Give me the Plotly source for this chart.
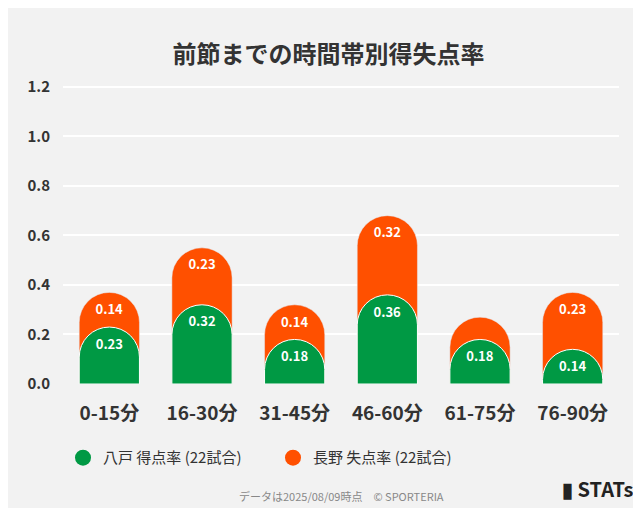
import plotly.graph_objects as go

categories = ["0-15分", "16-30分", "31-45分", "46-60分", "61-75分", "76-90分"]
hachinohe_for = [0.23, 0.32, 0.18, 0.36, 0.18, 0.14]
nagano_against = [0.14, 0.23, 0.14, 0.32, 0.09, 0.23]
nagano_labels = ["0.14", "0.23", "0.14", "0.32", "", "0.23"]

totals = [a + b for a, b in zip(hachinohe_for, nagano_against)]
GREEN = "#009944"
ORANGE = "#ff5000"
FONT = "Noto Sans CJK JP"

fig = go.Figure()
fig.add_trace(go.Bar(
    x=categories, y=totals, marker=dict(color=ORANGE, cornerradius=30),
    text=[f"<b>{t}</b>" for t in nagano_labels], textposition="inside", insidetextanchor="end",
    textfont=dict(color="white", size=13, family=FONT), width=0.65,
    showlegend=False, hoverinfo="skip",
))
fig.add_trace(go.Bar(
    x=categories, y=hachinohe_for, xaxis="x2",
    marker=dict(color=GREEN, cornerradius=30, line=dict(color="white", width=1)),
    text=[f"<b>{v:.2f}</b>" for v in hachinohe_for], textposition="inside", insidetextanchor="end",
    textfont=dict(color="white", size=13, family=FONT), width=0.65,
    showlegend=False, hoverinfo="skip",
))
# legend entries
fig.add_trace(go.Scatter(x=[None], y=[None], mode="markers", name="八戸 得点率 (22試合)",
                         marker=dict(color=GREEN, size=22)))
fig.add_trace(go.Scatter(x=[None], y=[None], mode="markers", name="長野 失点率 (22試合)",
                         marker=dict(color=ORANGE, size=22)))

fig.update_layout(
    width=641, height=508, barmode="overlay",
    paper_bgcolor="#f2f2f2", plot_bgcolor="#f2f2f2",
    font=dict(family=FONT, color="#333"),
    margin=dict(l=55, r=30, t=74, b=132),
    title=dict(text="<b>前節までの時間帯別得失点率</b>", x=0.5, y=0.925, xanchor="center",
               font=dict(size=24, color="#333")),
    xaxis=dict(tickfont=dict(size=19, color="#333", weight="bold"), showgrid=False,
               ticklabelstandoff=16),
    xaxis2=dict(overlaying="x", matches="x", visible=False),
    yaxis=dict(range=[0, 1.22], tickvals=[0, 0.2, 0.4, 0.6, 0.8, 1.0, 1.2], tickformat=".1f",
               gridcolor="white", gridwidth=2, zeroline=False, ticklabelstandoff=12,
               tickfont=dict(size=15, color="#333", weight="bold")),
    legend=dict(orientation="h", x=0.0, y=-0.19, xanchor="left", yanchor="top",
                font=dict(size=15), traceorder="normal", entrywidth=165),
    annotations=[
        dict(text="データは2025/08/09時点　© SPORTERIA", x=0.5, y=-0.37, xref="paper", yref="paper",
             yanchor="middle", showarrow=False, font=dict(size=11, color="#888")),
        dict(text="<b>▮ STATs</b>", x=1.03, y=-0.345, xref="paper", yref="paper",
             xanchor="right", yanchor="middle", showarrow=False, font=dict(size=20, color="#222")),
    ],
)
fig.write_html("out.html")
